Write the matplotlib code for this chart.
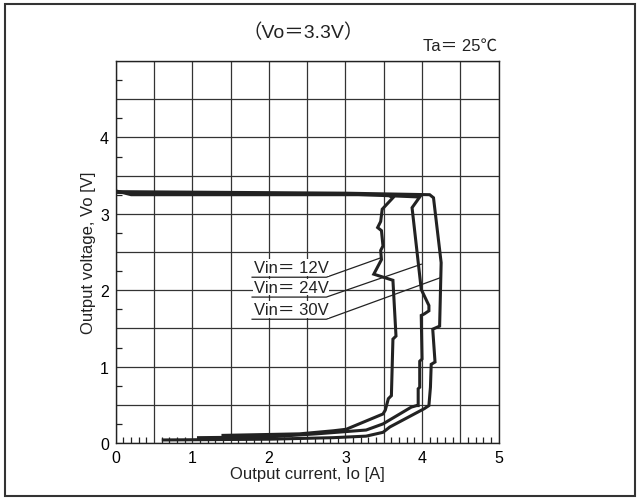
import matplotlib
matplotlib.use('Agg')
import matplotlib.pyplot as plt
from matplotlib.ticker import MultipleLocator
from matplotlib.patches import Rectangle

plt.rcParams['font.family'] = ['Liberation Sans Narrow', 'Liberation Sans', 'Noto Sans CJK JP', 'DejaVu Sans']

# output current Io [A] / output voltage Vo [V]
io_12 = [0, 0.2, 1.5, 3.0, 3.55, 3.62, 3.48, 3.46, 3.42, 3.47, 3.49, 3.46, 3.47, 3.37, 3.62, 3.66,
         3.62, 3.60, 3.56, 3.52, 3.49, 3.01, 2.84, 2.40, 1.40]
vo_12 = [3.30, 3.25, 3.25, 3.25, 3.25, 3.21, 3.06, 2.90, 2.82, 2.78, 2.58, 2.52, 2.40, 2.21, 2.13, 1.40,
         1.36, 0.62, 0.58, 0.43, 0.38, 0.18, 0.16, 0.12, 0.10]

io_24 = [0, 1.5, 3.0, 3.97, 3.87, 3.99, 4.09, 4.09, 4.03, 3.99, 4.00, 3.97, 3.97, 3.95, 3.95,
         3.93, 3.86, 3.49, 3.27, 3.01, 2.62, 2.0, 1.08]
vo_24 = [3.28, 3.27, 3.26, 3.22, 3.08, 2.01, 1.80, 1.73, 1.69, 1.67, 1.10, 1.07, 0.73, 0.71, 0.49,
         0.49, 0.47, 0.25, 0.17, 0.15, 0.12, 0.08, 0.07]

io_30 = [0, 1.5, 3.0, 4.10, 4.15, 4.25, 4.23, 4.14, 4.17, 4.12, 4.11, 4.09, 4.03, 3.58, 3.49,
         3.27, 2.84, 2.0, 0.62]
vo_30 = [3.29, 3.28, 3.27, 3.25, 3.21, 2.36, 1.53, 1.49, 1.06, 1.03, 0.73, 0.49, 0.45, 0.21, 0.14,
         0.09, 0.07, 0.05, 0.04]

labels = ['Vin＝ 12V', 'Vin＝ 24V', 'Vin＝ 30V']
label_y = [2.17, 1.91, 1.62]
leader_end = [(3.45, 2.42), (3.99, 2.34), (4.23, 2.16)]

fig = plt.figure(figsize=(6.4, 5.02), dpi=100)
ax = fig.add_axes([0.181, 0.1155, 0.598, 0.761])

ax.set_xlim(0, 5)
ax.set_ylim(0, 5)
# grid every 0.5, labels on whole numbers only
ax.set_xticks([x * 0.5 for x in range(11)])
ax.set_xticklabels(['0', '', '1', '', '2', '', '3', '', '4', '', '5'])
ax.set_yticks([y * 0.5 for y in range(11)])
ax.set_yticklabels(['0', '', '1', '', '2', '', '3', '', '4', '', ''])
ax.xaxis.set_minor_locator(MultipleLocator(0.1))
ax.yaxis.set_minor_locator(MultipleLocator(0.25))
ax.tick_params(which='major', length=0, labelsize=11.5, pad=5)
ax.tick_params(which='minor', direction='in', length=4, width=0.9, color='#222')
ax.grid(True, which='major', color='#333333', lw=0.9)
for s in ax.spines.values():
    s.set_color('#222222')
    s.set_linewidth(1.0)

for xs, ys in [(io_12, vo_12), (io_24, vo_24), (io_30, vo_30)]:
    ax.plot(xs, ys, color='#222222', lw=2.2, solid_joinstyle='miter')

for lab, ly, (ex, ey) in zip(labels, label_y, leader_end):
    ax.text(1.80, ly + 0.03, lab, fontsize=12, ha='left', va='bottom', color='#222222',
            bbox=dict(facecolor='white', edgecolor='none', pad=0.5))
    ax.plot([1.78, 2.75, ex], [ly, ly, ey], color='#222222', lw=0.9)

fig.text(0.474, 0.935, '（Vo＝3.3V）', fontsize=14, ha='center', va='center', color='#222222')
fig.text(0.777, 0.908, 'Ta＝ 25℃', fontsize=12, ha='right', va='center', color='#222222')
fig.text(0.481, 0.055, 'Output current, Io [A]', fontsize=12, ha='center', va='center', color='#222222')
fig.text(0.138, 0.496, 'Output voltage, Vo [V]', fontsize=12, ha='center', va='center',
         rotation=90, color='#222222')

fig.patches.append(Rectangle((0.008, 0.01), 0.984, 0.98, transform=fig.transFigure,
                             fill=False, edgecolor='#333333', lw=1.5))

fig.savefig('out.png', dpi=100)
